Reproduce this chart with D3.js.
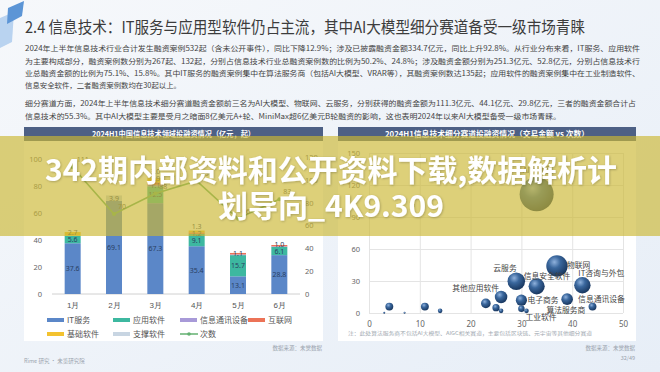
<!DOCTYPE html>
<html>
<head>
<meta charset="utf-8">
<script src="https://cdn.jsdelivr.net/npm/d3@7"></script>
<style>
  body { margin: 0; background: #eef3f9; }
  svg { display: block; font-family: "Noto Sans CJK SC", "Noto Sans", sans-serif; }
</style>
</head>
<body>
<svg id="slide" width="660" height="372"></svg>
<script>
// ******************** Data ************************
var months = ["1月", "2月", "3月", "4月", "5月", "6月"];
var seriesNames = ["IT服务", "应用软件", "信息通讯设备", "互联网", "基础软件", "支撑软件"];
var itService   = [37.6, 69.1, 67.3, 35.4, 13.1, 28.8];
var appSoftware = [5.6, 0, 12.5, 9.1, 15.7, 6.1];
var commDevice  = [0, 0, 1.1, 0, 0.5, 0.4];
var internet    = [0, 0, 1.9, 1.2, 1.1, 1.0];
var baseSoftware = [2.7, 0, 3.0, 1.3, 0, 0];
var supportSoftware = [0, 3.9, 0, 0, 0, 0];
var dealCounts  = [111, 70, 88, 99, 66, 83];
var leftTicks  = [0, 20, 40, 60, 80, 100];
var rightTicks = [0, 20, 40, 60, 80, 100, 120];

var bubbleNames   = ["AI大模型", "物联网", "云服务", "信息安全软件", "IT咨询与外包", "其他应用软件",
                     "电子商务", "信息通讯设备", "算法服务商", "工业软件",
                     "", "", "", "", "", "", "", "", ""];
var bubbleCounts  = [33, 37, 29, 33, 42, 26, 30, 39, 30, 31, 4, 11, 14, 23, 25, 26, 44, 3, 7];
var bubbleAmounts = [111.3, 44.1, 29.8, 25, 26, 15, 12, 13, 4, 2, 6, 6, 2, 9, 5, 2, 6, 0.3, 0.3];
var bubbleXTicks = [0, 10, 20, 30, 40, 50];
var bubbleYTicks = [0, 30, 60, 90, 120, 150];

var titleText = "2.4 信息技术：IT服务与应用型软件仍占主流，其中AI大模型细分赛道备受一级市场青睐";
var paragraph = [
  "2024年上半年信息技术行业合计发生融资案例532起（含未公开事件），同比下降12.9%；涉及已披露融资金额334.7亿元，同比上升92.8%。从行业分布来看，IT服务、应用软件",
  "为主要构成部分，融资案例数分别为267起、132起，分别占信息技术行业总融资案例数的比例为50.2%、24.8%；涉及融资金额分别为251.3亿元、52.8亿元，分别占信息技术行",
  "业总融资金额的比例为75.1%、15.8%。其中IT服务的融资案例集中在算法服务商（包括AI大模型、VRAR等），其融资案例数达135起；应用软件的融资案例集中在工业制造软件、",
  "信息安全软件，二者融资案例数均在30起以上。",
  "细分赛道方面，2024年上半年信息技术细分赛道融资金额前三名为AI大模型、物联网、云服务，分别获得的融资金额为111.3亿元、44.1亿元、29.8亿元，三者的融资金额合计占",
  "信息技术的55.3%。其中AI大模型主要是受月之暗面8亿美元A+轮、MiniMax超6亿美元B轮融资的影响，这也表明2024年以来AI大模型备受一级市场青睐。"
];
var bannerLines = ["342期内部资料和公开资料下载,数据解析计", "划导向_4K9.309"];

// ******************** Layout helpers ************************
var colors = ["#5b87c8", "#3db8a0", "#a89ad8", "#ec7357", "#f3c22f", "#c8d5e2"];
var lineColor = "#63b071";
var svg = d3.select("#slide");
var defs = svg.append("defs");

// background
var bg = defs.append("linearGradient").attr("id", "bg").attr("x1", 0).attr("y1", 0).attr("x2", 1).attr("y2", 1);
bg.append("stop").attr("offset", "0%").attr("stop-color", "#f6f8fb");
bg.append("stop").attr("offset", "100%").attr("stop-color", "#e7eef7");
svg.append("rect").attr("width", 660).attr("height", 372).attr("fill", "url(#bg)");

// little ribbon top-left
svg.append("polygon").attr("points", "0,18 14,12 12,42 0,48").attr("fill", "#b9d3f0");
svg.append("polygon").attr("points", "8,8 24,1 22,16 7,24").attr("fill", "#5c95d6");

// title + text
svg.append("text").attr("x", 25).attr("y", 33).attr("font-size", 16).attr("fill", "#3c3c3c")
  .attr("textLength", 560).attr("lengthAdjust", "spacingAndGlyphs").text(titleText);

var paraY = [51, 64, 76, 88, 106, 119];
var paraW = [615, 615, 615, 156, 611, 536];
svg.selectAll("text.para").data(paragraph).enter().append("text")
  .attr("class", "para")
  .attr("x", 25).attr("y", function (d, i) { return paraY[i]; })
  .attr("font-size", 7.3).attr("fill", "#444")
  .attr("textLength", function (d, i) { return paraW[i]; })
  .attr("lengthAdjust", "spacingAndGlyphs")
  .text(function (d) { return d; });

// panels
function panel(x, w, title, tw) {
  svg.append("rect").attr("x", x).attr("y", 127).attr("width", w).attr("height", 214).attr("fill", "#ffffff");
  svg.append("rect").attr("x", x).attr("y", 127).attr("width", w).attr("height", 14).attr("fill", "#4d6085");
  svg.append("text").attr("x", x + w / 2).attr("y", 137).attr("text-anchor", "middle")
    .attr("font-size", 7.5).attr("font-weight", 700).attr("fill", "#fff")
    .attr("textLength", tw).attr("lengthAdjust", "spacingAndGlyphs").text(title);
}
panel(24, 299, "2024H1中国信息技术领域投融资情况（亿元，起）", 163);
panel(338, 298, "2024H1信息技术细分赛道投融资情况（交易金额 vs 次数）", 204);

// ******************** Left chart: stacked bars + line ************************
var x = d3.scalePoint().domain(months).range([52, 300]).padding(0.5);
var yL = d3.scaleLinear().domain([0, 100]).range([294, 159]);
var yR = d3.scaleLinear().domain([0, 120]).range([294, 157]);
var barW = 16;

var table = months.map(function (m, i) {
  return { month: m, "IT服务": itService[i], "应用软件": appSoftware[i], "信息通讯设备": commDevice[i],
           "互联网": internet[i], "基础软件": baseSoftware[i], "支撑软件": supportSoftware[i] };
});
var stacked = d3.stack().keys(seriesNames)(table);

var gL = svg.append("g");
gL.append("line").attr("x1", 52).attr("x2", 300).attr("y1", yL(0)).attr("y2", yL(0)).attr("stroke", "#d0d0d0");

var axL = gL.append("g").attr("transform", "translate(52,0)")
  .call(d3.axisLeft(yL).tickValues(leftTicks).tickSize(0).tickPadding(10));
axL.select(".domain").remove();
axL.selectAll("text").attr("font-size", 7.5).attr("fill", "#666").attr("font-family", "Noto Sans, sans-serif");

var axR = gL.append("g").attr("transform", "translate(300,0)")
  .call(d3.axisRight(yR).tickValues(rightTicks).tickSize(0).tickPadding(5));
axR.select(".domain").remove();
axR.selectAll("text").attr("font-size", 7.5).attr("fill", "#666").attr("font-family", "Noto Sans, sans-serif");

var axX = gL.append("g").attr("transform", "translate(0," + yL(0) + ")")
  .call(d3.axisBottom(x).tickSize(0).tickPadding(8));
axX.select(".domain").remove();
axX.selectAll("text").attr("font-size", 8).attr("fill", "#555");

// segment labels, collected per month so tiny segments don't pile up
var segLabels = [];
stacked.forEach(function (layer, k) {
  var g = gL.append("g").attr("fill", colors[k]);
  g.selectAll("rect").data(layer).enter().append("rect")
    .attr("x", function (d) { return x(d.data.month) - barW / 2; })
    .attr("y", function (d) { return yL(d[1]); })
    .attr("width", barW)
    .attr("height", function (d) { return Math.max(0, yL(d[0]) - yL(d[1])); });
  layer.forEach(function (d) {
    if (d[1] - d[0] >= 1) {
      segLabels.push({ month: d.data.month, v: d[1] - d[0], y: (yL(d[0]) + yL(d[1])) / 2 + 2.5 });
    }
  });
});
months.forEach(function (m) {
  var prev = null;
  segLabels.filter(function (s) { return s.month === m; }).forEach(function (s) {
    if (prev !== null && s.y > prev - 7) s.y = prev - 7;
    prev = s.y;
  });
});
gL.append("g").selectAll("text").data(segLabels).enter().append("text")
  .attr("x", function (d) { return x(d.month); })
  .attr("y", function (d) { return d.y; })
  .attr("text-anchor", "middle").attr("font-size", 7).attr("fill", "#2a3f63")
  .attr("font-family", "Noto Sans, sans-serif")
  .text(function (d) { return d3.format(".1f")(d.v); });

var line = d3.line().x(function (d, i) { return x(months[i]); }).y(function (d) { return yR(d); });
gL.append("path").attr("d", line(dealCounts)).attr("fill", "none").attr("stroke", lineColor).attr("stroke-width", 1.6);
gL.selectAll("circle.pt").data(dealCounts).enter().append("circle").attr("class", "pt")
  .attr("cx", function (d, i) { return x(months[i]); }).attr("cy", function (d) { return yR(d); })
  .attr("r", 2).attr("fill", lineColor);
gL.selectAll("text.cnt").data(dealCounts).enter().append("text").attr("class", "cnt")
  .attr("x", function (d, i) { return x(months[i]) + 4; }).attr("y", function (d) { return yR(d) - 5; })
  .attr("font-size", 7).attr("fill", "#555").attr("font-family", "Noto Sans, sans-serif")
  .text(function (d) { return d; });

// legend
var legendItems = seriesNames.concat(["次数"]);
var legX = [47, 113, 180, 248, 47, 113, 180];
var legY = [320, 320, 320, 320, 334, 334, 334];
legendItems.forEach(function (name, i) {
  var g = svg.append("g").attr("transform", "translate(" + legX[i] + "," + legY[i] + ")");
  if (name === "次数") {
    g.append("line").attr("x1", 0).attr("x2", 18).attr("y1", 0).attr("y2", 0).attr("stroke", lineColor).attr("stroke-width", 1.5);
    g.append("circle").attr("cx", 9).attr("cy", 0).attr("r", 1.8).attr("fill", lineColor);
  } else {
    g.append("rect").attr("x", 0).attr("y", -2).attr("width", 17).attr("height", 4).attr("fill", colors[i]);
  }
  g.append("text").attr("x", 20).attr("y", 3).attr("font-size", 8).attr("fill", "#555").text(name);
});

svg.append("text").attr("x", 322).attr("y", 350).attr("text-anchor", "end")
  .attr("font-size", 5.5).attr("fill", "#9aa3ad").text("数据来源：未觉数据");
svg.append("text").attr("x", 24).attr("y", 363)
  .attr("font-size", 5.5).attr("fill", "#9aa3ad").text("Rime 研究 · 未览研究院");

// ******************** Right chart: bubbles ************************
var bx = d3.scaleLinear().domain([0, 50]).range([369, 623]);
var by = d3.scaleLinear().domain([0, 150]).range([313, 153]);
var br = d3.scaleSqrt().domain([0, 111.3]).range([0, 17]);

var ball = defs.append("radialGradient").attr("id", "ball").attr("cx", "38%").attr("cy", "32%").attr("r", "70%");
ball.append("stop").attr("offset", "0%").attr("stop-color", "#8fb1dc");
ball.append("stop").attr("offset", "40%").attr("stop-color", "#3a679d");
ball.append("stop").attr("offset", "100%").attr("stop-color", "#17355d");

var gR = svg.append("g");
var gx = gR.append("g").attr("transform", "translate(0,313)")
  .call(d3.axisBottom(bx).tickValues(bubbleXTicks).tickSize(-160).tickPadding(8));
gx.select(".domain").remove();
gx.selectAll("line").attr("stroke", "#e4e4e4");
gx.selectAll("text").attr("font-size", 8).attr("fill", "#666").attr("font-family", "Noto Sans, sans-serif");
var gy = gR.append("g").attr("transform", "translate(369,0)")
  .call(d3.axisLeft(by).tickValues(bubbleYTicks).tickSize(-254).tickPadding(9));
gy.select(".domain").remove();
gy.selectAll("line").attr("stroke", "#e4e4e4");
gy.selectAll("text").attr("font-size", 7.5).attr("fill", "#666").attr("font-family", "Noto Sans, sans-serif");

var bubbles = bubbleNames.map(function (n, i) { return { name: n, cnt: bubbleCounts[i], amt: bubbleAmounts[i] }; });
gR.selectAll("circle.b").data(bubbles).enter().append("circle").attr("class", "b")
  .attr("cx", function (d) { return bx(d.cnt); })
  .attr("cy", function (d) { return by(d.amt); })
  .attr("r", function (d) { return Math.max(1, br(d.amt)); })
  .attr("fill", "url(#ball)");

// label placement (offsets from bubble centre)
var labelPos = {
  "AI大模型": [-14, -21, "start"], "物联网": [10, 2, "start"], "云服务": [-23, -10, "start"],
  "信息安全软件": [-13, -7, "start"], "IT咨询与外包": [-4, -9, "start"], "其他应用软件": [-2, -6, "end"],
  "电子商务": [6, 3, "start"], "信息通讯设备": [11, 3, "start"], "算法服务商": [25, 4, "start"],
  "工业软件": [-1, 9, "start"]
};
gR.selectAll("text.bl").data(bubbles.filter(function (d) { return d.name; })).enter().append("text")
  .attr("class", "bl")
  .attr("x", function (d) { return bx(d.cnt) + labelPos[d.name][0]; })
  .attr("y", function (d) { return by(d.amt) + labelPos[d.name][1]; })
  .attr("text-anchor", function (d) { return labelPos[d.name][2]; })
  .attr("font-size", 7.8).attr("fill", "#444")
  .text(function (d) { return d.name; });

svg.append("text").attr("x", 348).attr("y", 335).attr("font-size", 5).attr("fill", "#a0a8b0")
  .attr("textLength", 244).attr("lengthAdjust", "spacingAndGlyphs")
  .text("注：此处算法服务商不包括AI大模型、AIGC相关赛道，主要包括区块链、元宇宙等其他细分赛道");
svg.append("text").attr("x", 635).attr("y", 350).attr("text-anchor", "end")
  .attr("font-size", 5.5).attr("fill", "#9aa3ad").text("数据来源：未觉数据");
svg.append("text").attr("x", 635).attr("y", 360).attr("text-anchor", "end")
  .attr("font-size", 5.5).attr("fill", "#9aa3ad").text("32/49");

// ******************** Banner overlay ************************
var shadow = defs.append("filter").attr("id", "ts").attr("x", "-5%").attr("y", "-20%").attr("width", "110%").attr("height", "140%");
shadow.append("feDropShadow").attr("dx", 0.8).attr("dy", 0.8).attr("stdDeviation", 0.8)
  .attr("flood-color", "#000").attr("flood-opacity", 0.25);
svg.append("rect").attr("x", 0).attr("y", 136).attr("width", 660).attr("height", 100)
  .attr("fill", "rgb(204,184,52)").attr("opacity", 0.66);
var bannerY = [181, 217];
var bannerW = [572, 226];
svg.selectAll("text.banner").data(bannerLines).enter().append("text").attr("class", "banner")
  .attr("x", 331).attr("y", function (d, i) { return bannerY[i]; })
  .attr("text-anchor", "middle").attr("font-size", 30).attr("font-weight", 700).attr("fill", "#fff")
  .attr("textLength", function (d, i) { return bannerW[i]; }).attr("lengthAdjust", "spacingAndGlyphs")
  .attr("filter", "url(#ts)")
  .text(function (d) { return d; });
</script>
</body>
</html>
